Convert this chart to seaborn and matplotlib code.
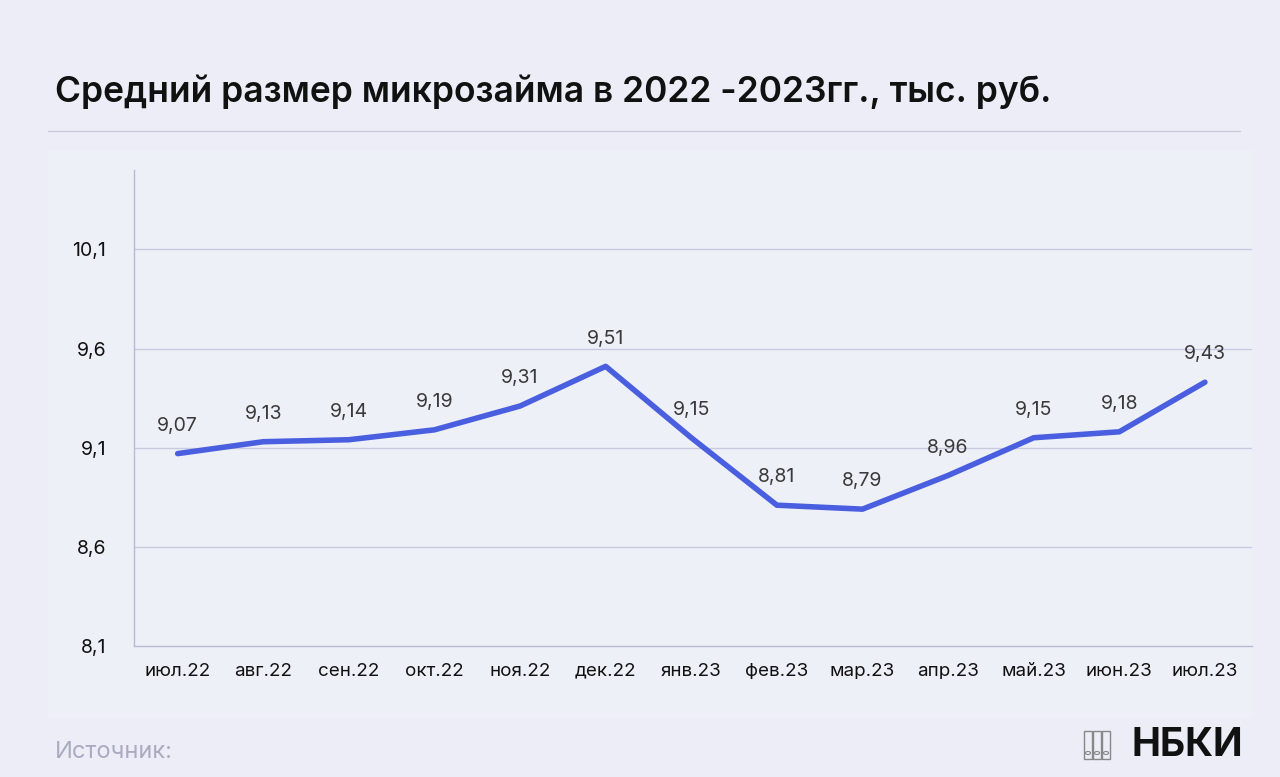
import matplotlib
matplotlib.use("Agg")
import matplotlib.pyplot as plt
import seaborn as sns
import pandas as pd
from matplotlib.patches import Rectangle, Circle

months = ["июл.22","авг.22","сен.22","окт.22","ноя.22","дек.22","янв.23","фев.23","мар.23","апр.23","май.23","июн.23","июл.23"]
values = [9.07,9.13,9.14,9.19,9.31,9.51,9.15,8.81,8.79,8.96,9.15,9.18,9.43]
yticks = [8.1,8.6,9.1,9.6,10.1]

sns.set_theme(style="white")
plt.rcParams['font.family'] = ['Inter', 'DejaVu Sans']
bg = "#ecedf6"
fig = plt.figure(figsize=(12.8, 7.77), dpi=100, facecolor=bg)
fig.patches.append(Rectangle((48/1280, 1-718/777), (1252-48)/1280, (718-150)/777,
                             transform=fig.transFigure, facecolor="#eef0f8", edgecolor="none", zorder=-5))
fig.text(55/1280, 1-92/777, "Средний размер микрозайма в 2022 -2023гг., тыс. руб.",
         fontsize=25.5, fontweight="semibold", color="#111111", va="center", ha="left")
fig.add_artist(plt.Line2D([48/1280, 1240/1280], [1-131/777]*2, color="#c9cadb", lw=1))
fig.text(55/1280, 1-752/777, "Источник:", fontsize=17, color="#a9abc0", va="center")
fig.text(1243/1280, 1-745/777, "НБКИ", fontsize=28, fontweight="bold", color="#111111", va="center", ha="right")
for k in range(3):
    x0 = 1084 + k*9
    fig.add_artist(Rectangle((x0/1280, 1-759/777), 8/1280, 28/777, transform=fig.transFigure,
                             facecolor="none", edgecolor="#888888", lw=1))
    fig.add_artist(Circle(((x0+4)/1280, 1-753/777), 2.5/1280, transform=fig.transFigure,
                          facecolor="none", edgecolor="#888888", lw=0.8))

ax = fig.add_axes([134/1280, 1-646/777, (1252-134)/1280, (646-170)/777])
ax.set_facecolor("none")
df = pd.DataFrame({"m": range(len(months)), "v": values})
sns.lineplot(data=df, x="m", y="v", ax=ax, color="#4a5fe0", lw=4, zorder=3)
for i, v in enumerate(values):
    ax.annotate(f"{v:.2f}".replace(".", ","), (i, v), xytext=(0, 20), textcoords="offset points",
                ha="center", va="center", fontsize=14, color="#3a3a3a")
ax.set_xlim(-0.51, 12.55)
ax.set_ylim(8.1, 10.5)
ax.set_yticks(yticks)
ax.set_yticklabels([str(t).replace(".", ",") for t in yticks], fontsize=14, color="#111111")
ax.set_xticks(range(len(months)))
ax.set_xticklabels(months, fontsize=13.5, color="#111111")
ax.tick_params(axis="y", pad=20, length=0)
ax.tick_params(axis="x", pad=12, length=0)
for t in yticks[1:]:
    ax.axhline(t, color="#c8cae0", lw=1, zorder=1)
for s in ["top", "right"]:
    ax.spines[s].set_visible(False)
for s in ["left", "bottom"]:
    ax.spines[s].set_color("#b8bad2")
    ax.spines[s].set_linewidth(1)
ax.set_xlabel(""); ax.set_ylabel("")
fig.savefig("out.png", dpi=100, facecolor=bg)
